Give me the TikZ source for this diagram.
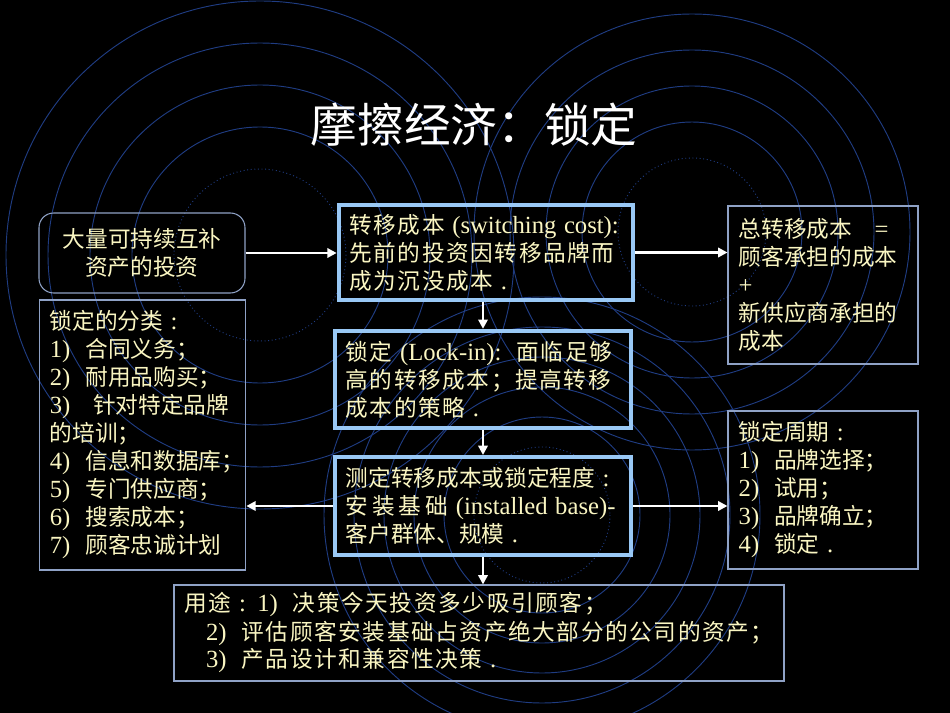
\documentclass[tikz,border=0pt]{standalone}
\usepackage{fontspec}
\setmainfont{Liberation Serif}
\newfontfamily\cjk{Noto Sans CJK SC}
\newfontfamily\cjkwide{Noto Sans CJK SC}[LetterSpace=7]
\usepackage{xcolor}
\usepackage{tikz}
\usetikzlibrary{arrows.meta,positioning,calc}

\definecolor{cream}{HTML}{FAF6C2}
\definecolor{edgegray}{HTML}{8FA2C6}
\definecolor{edgeblue}{HTML}{99C8F5}
\definecolor{ringblue}{HTML}{1F3C82}
\newcommand\ltn[1]{{\rmfamily\fontsize{18.5}{21}\selectfont #1}}

\begin{document}
\begin{tikzpicture}[
    x=0.75pt, y=-0.75pt,
    basebox/.style={text=cream, inner xsep=8pt, inner ysep=0pt,
      font=\cjk\fontsize{17}{21}\selectfont},
    softbox/.style={basebox, draw=edgegray, line width=0.8pt,
      rounded corners=11pt, align=center},
    plainbox/.style={basebox, draw=edgegray, line width=0.8pt, align=left},
    keybox/.style={basebox, draw=edgeblue, line width=3pt, align=left},
    widebox/.style={font=\cjkwide\fontsize{17}{21}\selectfont},
    ring/.style={draw=ringblue, line width=0.7pt},
    flow/.style={draw=white, line width=2pt, -{Triangle[length=7pt,width=7pt]}},
  ]
  \fill[black] (0,0) rectangle (950,713);
  \useasboundingbox (0,0) rectangle (950,713);

  % background rings
  \foreach \cx/\cy/\rad/\gap in {260/255/86/42, 692/232/74/36, 542/515/68/30} {
    \draw[ring, dotted] (\cx,\cy) circle[radius=\rad];
    \foreach \k in {1,...,4}
      \draw[ring] (\cx,\cy) circle[radius=\rad+\gap*\k];
  }
  \draw[ring] (542,515) circle[radius=218];

  \node[font=\cjk\fontsize{35}{40}\selectfont, text=white] (title) at (474,125) {摩擦经济：锁定};

  \node[softbox, text width=138pt, minimum width=154.5pt, minimum height=60pt]
    (assets) at (142,253) {大量可持续互补\\资产的投资};
  \node[keybox, widebox, text width=205pt, minimum height=71pt]
    (switch) at (486,252.5) {转移成本\ltn{ (switching cost):}\\先前的投资因转移品牌而\\成为沉没成本\ltn{ .}};
  \node[plainbox, text width=126.5pt, minimum height=118.5pt]
    (total) at (823,285) {总转移成本\ltn{\ \ \ =}\\顾客承担的成本\\\ltn{+}\\新供应商承担的\\成本};
  \node[plainbox, text width=139pt, minimum height=202.5pt]
    (kinds) at (142.5,435) {锁定的分类\ltn{ :}\\\ltn{1)~~}合同义务；\\\ltn{2)~~}耐用品购买；\\\ltn{3)~~~}针对特定品牌\\的培训；\\\ltn{4)~~}信息和数据库；\\\ltn{5)~~}专门供应商；\\\ltn{6)~~}搜索成本；\\\ltn{7)~~}顾客忠诚计划};
  \node[keybox, widebox, text width=206pt, minimum height=73pt]
    (lockin) at (483,379.5) {锁定\ltn{ (Lock-in):~~}面临足够\\高的转移成本；提高转移\\成本的策略\ltn{ .}};
  \node[keybox, text width=206pt, minimum height=73.5pt]
    (measure) at (483,506) {测定转移成本或锁定程度\ltn{ :}\\安\hspace{3pt}装\hspace{3pt}基\hspace{3pt}础\ltn{ (installed~base)-}\\客户群体、规模\ltn{ .}};
  \node[plainbox, text width=126.5pt, minimum height=118.5pt]
    (cycle) at (823,490) {锁定周期\ltn{ :}\\\ltn{1)~~}品牌选择；\\\ltn{2)~~}试用；\\\ltn{3)~~}品牌确立；\\\ltn{4)~~}锁定\ltn{ .}};
  \node[plainbox, widebox, text width=441.5pt, minimum height=72pt]
    (uses) at (479,633) {用途\ltn{ : 1)~~}决策今天投资多少吸引顾客；\\\ltn{\hspace{16pt}2)~~}评估顾客安装基础占资产绝大部分的公司的资产；\\\ltn{\hspace{16pt}3)~~}产品设计和兼容性决策\ltn{ .}};

  % connectors
  \draw[flow] (assets.east) -- (assets.east -| switch.west);
  \draw[flow] (switch.east) -- (switch.east -| total.west);
  \draw[flow] (lockin.north |- switch.south) -- (lockin.north);
  \draw[flow] (lockin) -- (measure);
  \draw[flow] (measure.west) -- (measure.west -| kinds.east);
  \draw[flow] (measure.east) -- (measure.east -| cycle.west);
  \draw[flow] (measure.south) -- (measure.south |- uses.north);
\end{tikzpicture}
\end{document}
